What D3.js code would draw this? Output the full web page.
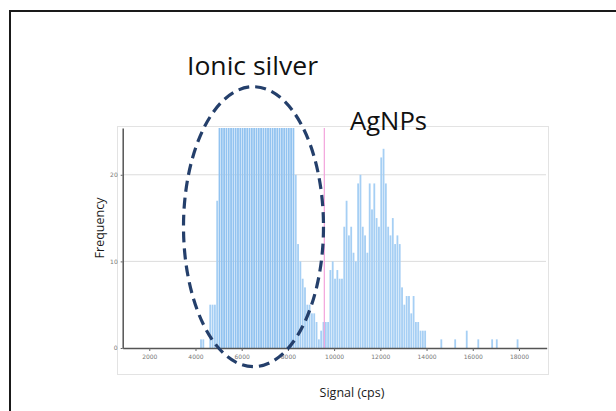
<!DOCTYPE html>
<html>
<head>
<meta charset="utf-8">
<script src="https://cdn.jsdelivr.net/npm/d3@7"></script>
<style>
  body { margin: 0; background: #fff; }
  text { font-family: "Open Sans", "DejaVu Sans", sans-serif; }
</style>
</head>
<body>
<svg id="chart"></svg>
<script>
// histogram bins (start of bin, cps) and counts
const binWidth = 100;
const ionicBins = [4200, 4300, 4600, 4700, 4800, 4900,
  5000, 5100, 5200, 5300, 5400, 5500, 5600, 5700, 5800, 5900,
  6000, 6100, 6200, 6300, 6400, 6500, 6600, 6700, 6800, 6900,
  7000, 7100, 7200, 7300, 7400, 7500, 7600, 7700, 7800, 7900,
  8000, 8100, 8200, 8300, 8400, 8500, 8600, 8700, 8800, 8900,
  9000, 9100, 9200, 9300, 9400, 9500];
const ionicFreq = [1, 1, 5, 5, 5, 17,
  30, 38, 44, 41, 47, 52, 49, 55, 58, 53,
  60, 57, 62, 59, 55, 61, 58, 54, 56, 50,
  52, 48, 45, 47, 42, 40, 43, 38, 36, 33,
  31, 30, 28, 20, 12, 10, 8, 7, 5, 5,
  4, 4, 3, 1, 2, 3];
const npBins = [9600, 9700, 9800, 9900, 10000, 10100, 10200, 10300, 10400, 10500,
  10600, 10700, 10800, 10900, 11000, 11100, 11200, 11300, 11400, 11500,
  11600, 11700, 11800, 11900, 12000, 12100, 12200, 12300, 12400, 12500,
  12600, 12700, 12800, 12900, 13000, 13100, 13200, 13300, 13400, 13500,
  13600, 13700, 13800, 13900, 14600, 15200, 15700, 16200, 16800, 17000, 17900];
const npFreq = [3, 3, 9, 10, 8, 9, 8, 8, 14, 17,
  13, 14, 11, 10, 19, 20, 14, 13, 11, 19,
  16, 19, 15, 14, 22, 23, 19, 14, 13, 15,
  12, 13, 12, 7, 5, 6, 6, 4, 6, 3,
  3, 2, 2, 2, 1, 1, 2, 1, 1, 1, 1];
const xTicks = [2000, 4000, 6000, 8000, 10000, 12000, 14000, 16000, 18000];
const yTicks = [0, 10, 20];
const threshold = 9576;

const W = 616, H = 411;
const svg = d3.select('#chart').attr('width', W).attr('height', H);

// slide frame (only top and left edges fall inside the picture)
svg.append('rect')
  .attr('x', 10).attr('y', 11)
  .attr('width', 640).attr('height', 440)
  .attr('fill', 'none').attr('stroke', '#1a1a1a').attr('stroke-width', 2);

// chart panel
svg.append('rect')
  .attr('x', 117.5).attr('y', 126.5)
  .attr('width', 431).attr('height', 248)
  .attr('fill', '#fff').attr('stroke', '#e3e3e3');

const x = d3.scaleLinear().domain([850, 19200]).range([122.7, 546.7]);
const y = d3.scaleLinear().domain([0, 25.4]).range([348, 128]);

svg.append('defs').append('clipPath').attr('id', 'clip')
  .append('rect')
  .attr('x', 122.7).attr('y', 128)
  .attr('width', 424).attr('height', 220);

// grid
svg.append('g').selectAll('line')
  .data(yTicks.filter(d => d > 0))
  .join('line')
  .attr('x1', 123).attr('x2', 546)
  .attr('y1', d => y(d)).attr('y2', d => y(d))
  .attr('stroke', '#dcdcdc').attr('stroke-width', 1);

const bars = ionicBins.map((b, i) => ({bin: b, n: ionicFreq[i]}))
  .concat(npBins.map((b, i) => ({bin: b, n: npFreq[i]})));

svg.append('g')
  .attr('clip-path', 'url(#clip)')
  .selectAll('rect')
  .data(bars)
  .join('rect')
  .attr('x', d => x(d.bin))
  .attr('width', d => x(d.bin + binWidth) - x(d.bin) - 0.5)
  .attr('y', d => y(d.n))
  .attr('height', d => y(0) - y(d.n))
  .attr('fill', d => d.n > 25 ? '#92c3f0' : '#a6cff4');

// threshold line
svg.append('line')
  .attr('x1', x(threshold)).attr('x2', x(threshold))
  .attr('y1', 128).attr('y2', y(0))
  .attr('stroke', '#f2a3dc').attr('stroke-width', 1.2);

// axes
const xAxis = d3.axisBottom(x).tickValues(xTicks).tickFormat(d3.format('d'))
  .tickSize(3).tickSizeOuter(0);
const yAxis = d3.axisLeft(y).tickValues(yTicks).tickSize(2).tickSizeOuter(0);

const gx = svg.append('g')
  .attr('transform', `translate(0,${y(0)})`)
  .call(xAxis);
const gy = svg.append('g')
  .attr('transform', `translate(${x.range()[0]},0)`)
  .call(yAxis);

[gx, gy].forEach(g => {
  g.select('.domain').attr('stroke', '#555').attr('stroke-width', 1.5);
  g.selectAll('.tick line').attr('stroke', '#666');
  g.selectAll('.tick text')
    .attr('fill', '#777')
    .style('font-size', '6px')
    .style('font-family', 'DejaVu Sans, sans-serif');
});
gx.selectAll('.tick text').attr('dy', '0.9em');

// axis titles
svg.append('text')
  .attr('x', 352).attr('y', 397)
  .attr('text-anchor', 'middle')
  .attr('fill', '#1a1a1a')
  .style('font-size', '12.5px')
  .text('Signal (cps)');

svg.append('text')
  .attr('transform', 'translate(104,228) rotate(-90)')
  .attr('text-anchor', 'middle')
  .attr('fill', '#1a1a1a')
  .style('font-size', '12.5px')
  .text('Frequency');

// annotations
svg.append('ellipse')
  .attr('cx', 253.5).attr('cy', 226.7)
  .attr('rx', 70).attr('ry', 140)
  .attr('fill', 'none')
  .attr('stroke', '#243f6b')
  .attr('stroke-width', 3.2)
  .attr('stroke-dasharray', '11,6');

svg.append('text')
  .attr('x', 187).attr('y', 75)
  .attr('textLength', 131)
  .attr('lengthAdjust', 'spacingAndGlyphs')
  .attr('fill', '#111')
  .style('font-size', '25px')
  .text('Ionic silver');

svg.append('text')
  .attr('x', 350).attr('y', 129.5)
  .attr('textLength', 77)
  .attr('lengthAdjust', 'spacingAndGlyphs')
  .attr('fill', '#111')
  .style('font-size', '25px')
  .text('AgNPs');
</script>
</body>
</html>
